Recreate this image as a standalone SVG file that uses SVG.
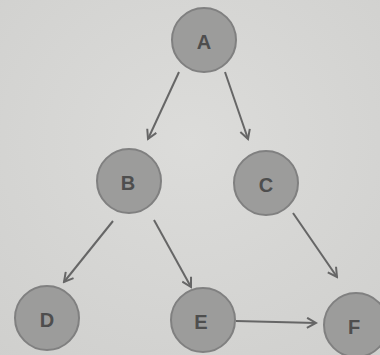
<svg xmlns="http://www.w3.org/2000/svg" width="380" height="355" viewBox="0 0 380 355">
<defs>
<radialGradient id="bg" cx="0.5" cy="0.4" r="0.8">
<stop offset="0" stop-color="#dcdcda"/>
<stop offset="1" stop-color="#cfcfcd"/>
</radialGradient>
<marker id="arr" viewBox="0 0 12 12" refX="10" refY="6" markerWidth="12" markerHeight="12" markerUnits="userSpaceOnUse" orient="auto">
<path d="M1,1 L10,6 L1,11" fill="none" stroke="#666" stroke-width="2"/>
</marker>
<style>
.n circle{fill:#9c9c9b;stroke:#808080;stroke-width:2}
.n text{font-family:"Liberation Sans",Arial,sans-serif;font-size:20px;font-weight:bold;fill:#4e4e4e;text-anchor:middle;dominant-baseline:central}
#edges line{stroke:#666;stroke-width:2;marker-end:url(#arr)}
</style>
</defs>
<rect width="380" height="355" fill="url(#bg)"/>
<g id="edges">
<line x1="179" y1="72" x2="148" y2="139"/>
<line x1="225" y1="72" x2="248" y2="139"/>
<line x1="113" y1="221" x2="64" y2="282"/>
<line x1="154" y1="220" x2="191" y2="287"/>
<line x1="293" y1="213" x2="337" y2="277"/>
<line x1="236" y1="321" x2="316" y2="323"/>
</g>
<g id="A" class="n"><circle cx="204" cy="40" r="32"/><text x="204" y="42">A</text></g>
<g id="B" class="n"><circle cx="129" cy="181" r="32"/><text x="128" y="183">B</text></g>
<g id="C" class="n"><circle cx="266" cy="183" r="32"/><text x="266" y="185">C</text></g>
<g id="D" class="n"><circle cx="47" cy="318" r="32"/><text x="47" y="320">D</text></g>
<g id="E" class="n"><circle cx="203" cy="320" r="32"/><text x="201" y="322">E</text></g>
<g id="F" class="n"><circle cx="356" cy="325" r="32"/><text x="354" y="327">F</text></g>
</svg>
